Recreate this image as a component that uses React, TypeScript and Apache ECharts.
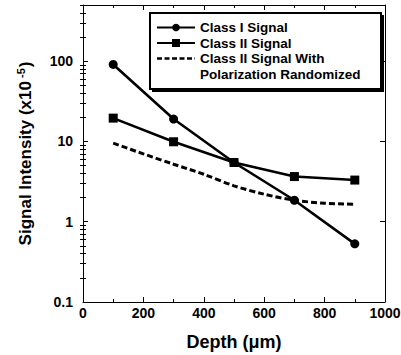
import React, { useEffect, useRef } from "react";
import * as echarts from "echarts";

const depths = [100, 300, 500, 700, 900];
const classI = [91, 19, 5.46, 1.85, 0.53];
const classII = [19.5, 9.9, 5.46, 3.65, 3.3];
const randomDepths = [100, 200, 300, 400, 500, 600, 700, 800, 900];
const randomized = [9.5, 7.0, 5.2, 3.9, 2.8, 2.2, 1.85, 1.7, 1.65];
const xMin = 0;
const xMax = 1000;
const yMin = 0.1;
const yMax = 500;
const yMajor = [0.1, 1, 10, 100];
const yMinor = [
  0.2, 0.3, 0.4, 0.5, 0.6, 0.7, 0.8, 0.9,
  2, 3, 4, 5, 6, 7, 8, 9,
  20, 30, 40, 50, 60, 70, 80, 90,
  200, 300, 400, 500,
];
const legendLabels = [
  "Class I Signal",
  "Class II Signal",
  "Class II Signal With",
  "Polarization Randomized",
];

const FONT = 'Arial, "Liberation Sans", sans-serif';
const BLACK = "#000";

export default function App() {
  const ref = useRef<HTMLDivElement>(null);
  useEffect(() => {
    if (!ref.current) return;
    const chart = echarts.init(ref.current, null, { renderer: "svg" });

    const baseX = {
      type: "value",
      min: xMin,
      max: xMax,
      interval: 200,
      splitLine: { show: false },
      axisLine: { show: true, onZero: false, lineStyle: { color: BLACK, width: 1 } },
      axisTick: { show: true, inside: true, length: 5, lineStyle: { color: BLACK } },
      minorTick: { show: true, splitNumber: 2, length: 3, lineStyle: { color: BLACK } },
    };
    const baseY = {
      type: "log",
      logBase: 10,
      min: yMin,
      max: yMax,
      splitLine: { show: false },
      minorSplitLine: { show: false },
      axisLine: { show: true, onZero: false, lineStyle: { color: BLACK, width: 1 } },
    };

    const lx = 157, rx = 195, mx = 176;
    const rows = [27.5, 43, 58.5, 74];
    const textX = 200;
    const legendFont = `bold 13.5px ${FONT}`;

    chart.setOption({
      animation: false,
      grid: { left: 83, right: 16, top: 5, bottom: 53, containLabel: false, outerBoundsMode: "none" },
      xAxis: [
        {
          ...baseX,
          position: "bottom",
          name: "Depth (\u03bcm)",
          nameLocation: "middle",
          nameGap: 31,
          nameTextStyle: { fontFamily: FONT, fontWeight: "bold", fontSize: 18, color: BLACK },
          axisLabel: {
            show: true,
            margin: 4,
            fontFamily: FONT,
            fontWeight: "bold",
            fontSize: 14,
            color: BLACK,
            formatter: (v: number) => String(v),
          },
        },
        {
          ...baseX,
          position: "top",
          axisLabel: { show: false },
        },
      ],
      yAxis: [
        {
          ...baseY,
          position: "left",
          name: "Signal Intensity (x10{sup|-5})",
          nameLocation: "middle",
          nameGap: 48,
          nameTextStyle: {
            fontFamily: FONT,
            fontWeight: "bold",
            fontSize: 17,
            color: BLACK,
            lineHeight: 20,
            rich: {
              sup: { fontFamily: FONT, fontWeight: "bold", fontSize: 11, color: BLACK, verticalAlign: "top", lineHeight: 12, padding: [0, 1, 0, 3] },
            },
          },
          axisTick: { show: true, inside: true, length: 5, customValues: yMajor, lineStyle: { color: BLACK } },
          axisLabel: { show: true, margin: 10, customValues: yMajor, fontFamily: FONT, fontWeight: "bold", fontSize: 14, color: BLACK, formatter: (v: number) => String(v) },
        },
        {
          ...baseY,
          position: "left",
          axisLine: { show: false },
          axisTick: { show: true, inside: true, length: 3, customValues: yMinor, lineStyle: { color: BLACK } },
          axisLabel: { show: false },
        },
        {
          ...baseY,
          position: "right",
          axisTick: { show: true, inside: true, length: 5, customValues: yMajor, lineStyle: { color: BLACK } },
          axisLabel: { show: false },
        },
        {
          ...baseY,
          position: "right",
          axisLine: { show: false },
          axisTick: { show: true, inside: true, length: 3, customValues: yMinor, lineStyle: { color: BLACK } },
          axisLabel: { show: false },
        },
      ],
      series: [
        {
          name: legendLabels[0],
          type: "line",
          xAxisIndex: 0,
          yAxisIndex: 0,
          data: depths.map((d, i) => [d, classI[i]]),
          symbol: "circle",
          symbolSize: 9,
          itemStyle: { color: BLACK },
          lineStyle: { color: BLACK, width: 2.6 },
          z: 3,
        },
        {
          name: legendLabels[1],
          type: "line",
          xAxisIndex: 0,
          yAxisIndex: 0,
          data: depths.map((d, i) => [d, classII[i]]),
          symbol: "rect",
          symbolSize: 9,
          itemStyle: { color: BLACK },
          lineStyle: { color: BLACK, width: 2.6 },
          z: 3,
        },
        {
          name: legendLabels[2] + " " + legendLabels[3],
          type: "line",
          xAxisIndex: 0,
          yAxisIndex: 0,
          data: randomDepths.map((d, i) => [d, randomized[i]]),
          symbol: "none",
          smooth: 0.3,
          lineStyle: { color: BLACK, width: 3, type: [6, 3] },
          z: 2,
        },
      ],
      graphic: [
        { type: "rect", shape: { x: 152, y: 15, width: 232, height: 77 }, style: { fill: BLACK }, z: 10 },
        { type: "rect", shape: { x: 150, y: 13, width: 231, height: 76 }, style: { fill: "#fff", stroke: BLACK, lineWidth: 2 }, z: 11 },
        { type: "line", shape: { x1: lx, y1: rows[0], x2: rx, y2: rows[0] }, style: { stroke: BLACK, lineWidth: 2.2 }, z: 12 },
        { type: "circle", shape: { cx: mx, cy: rows[0], r: 3.8 }, style: { fill: BLACK }, z: 12 },
        { type: "line", shape: { x1: lx, y1: rows[1], x2: rx, y2: rows[1] }, style: { stroke: BLACK, lineWidth: 2.2 }, z: 12 },
        { type: "rect", shape: { x: mx - 4, y: rows[1] - 4, width: 8, height: 8 }, style: { fill: BLACK }, z: 12 },
        { type: "line", shape: { x1: lx, y1: rows[2], x2: rx, y2: rows[2] }, style: { stroke: BLACK, lineWidth: 2.6, lineDash: [5, 2.5] }, z: 12 },
        ...legendLabels.map((t, i) => ({
          type: "text",
          style: { text: t, x: textX, y: rows[i], font: legendFont, fill: BLACK, verticalAlign: "middle", align: "left" },
          z: 12,
        })),
      ],
    });
    return () => chart.dispose();
  }, []);
  return <div ref={ref} style={{ width: 401, height: 355, position: "absolute", left: 0, top: 0, background: "#fff" }} />;
}
